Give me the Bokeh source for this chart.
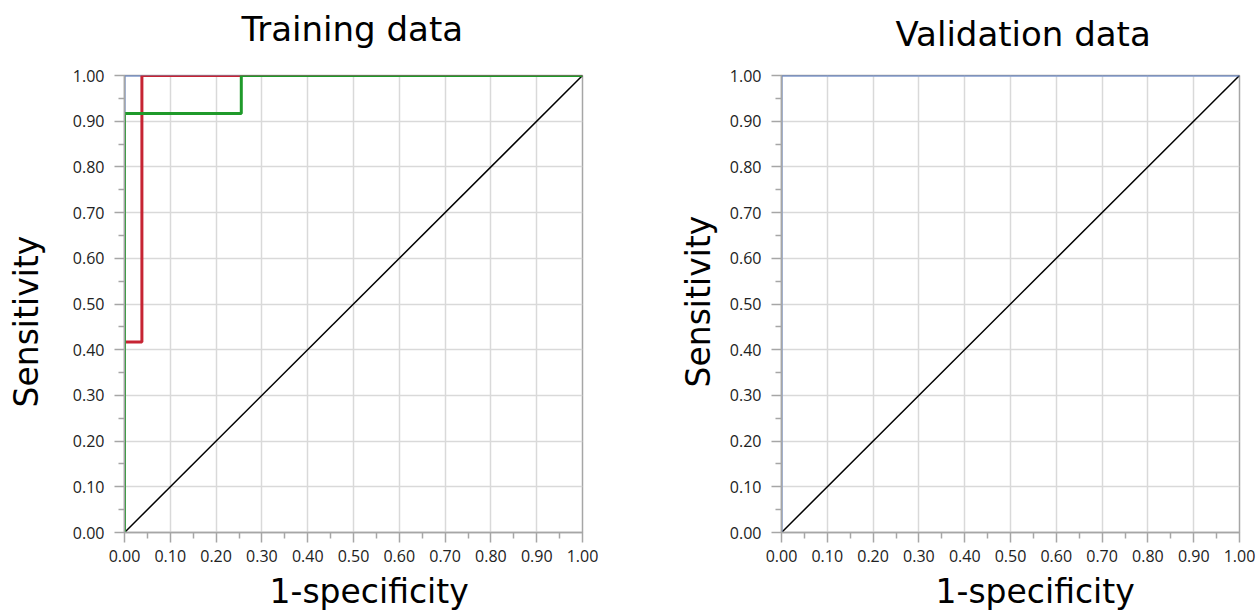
from bokeh.plotting import figure
from bokeh.models import Range1d, FixedTicker, PrintfTickFormatter, Title, LinearAxis
from bokeh.layouts import row
from bokeh.embed import file_html
from bokeh.resources import INLINE

# ---- data ----
tick_values = [0.0, 0.1, 0.2, 0.3, 0.4, 0.5, 0.6, 0.7, 0.8, 0.9, 1.0]
minor_values = [0.05, 0.15, 0.25, 0.35, 0.45, 0.55, 0.65, 0.75, 0.85, 0.95]

diag_x = [0.0, 1.0]
diag_y = [0.0, 1.0]

train_blue_x = [0.0, 0.0, 1.0]
train_blue_y = [0.0, 1.0, 1.0]
train_red_x = [0.0, 0.0, 0.038, 0.038, 1.0]
train_red_y = [0.0, 0.417, 0.417, 1.0, 1.0]
train_green_x = [0.0, 0.0, 0.255, 0.255, 1.0]
train_green_y = [0.0, 0.917, 0.917, 1.0, 1.0]

valid_blue_x = [0.0, 0.0, 1.0]
valid_blue_y = [0.0, 1.0, 1.0]

BLUE = "#5b7fc7"
RED = "#c62433"
GREEN = "#1f9a2a"
AXIS_GREY = "#a6a6a6"
GRID_GREY = "#d9d9d9"
BIG_FONT = "DejaVu Sans"
TICK_FONT = "Open Sans"


def spacer_axis(size):
    # an invisible axis used only to reserve room between the frame and a title
    return LinearAxis(ticker=FixedTicker(ticks=[0.0], minor_ticks=[]), axis_line_color=None,
                      major_tick_out=size, major_tick_in=0, minor_tick_out=0,
                      minor_tick_in=0, major_tick_line_color=None,
                      major_label_text_color=None, major_label_standoff=0)


def make_fig(title, title_off, title_gap, xlab_off, xlab_gap, ylab_off, ylab_gap, bl, br, bt, bb):
    p = figure(width=628, height=615, output_backend="svg", toolbar_location=None,
               x_range=Range1d(0, 1), y_range=Range1d(0, 1),
               min_border_left=bl, min_border_right=br, min_border_top=bt, min_border_bottom=bb)
    for ax in (p.xaxis[0], p.yaxis[0]):
        ax.ticker = FixedTicker(ticks=tick_values, minor_ticks=minor_values)
        ax.formatter = PrintfTickFormatter(format="%.2f")
        ax.axis_line_color = AXIS_GREY
        ax.axis_line_width = 1.5
        ax.major_tick_line_color = AXIS_GREY
        ax.minor_tick_line_color = AXIS_GREY
        ax.major_tick_line_width = 1.5
        ax.minor_tick_line_width = 1.5
        ax.major_tick_in = 0
        ax.minor_tick_in = 0
        ax.major_tick_out = 10
        ax.minor_tick_out = 6
        ax.major_label_text_font = TICK_FONT
        ax.major_label_text_font_size = "16px"
        ax.major_label_text_color = "#222222"
    p.yaxis[0].major_label_standoff = 10
    p.xaxis[0].major_label_standoff = 7
    for g in (p.xgrid[0], p.ygrid[0]):
        g.ticker = FixedTicker(ticks=tick_values)
        g.grid_line_color = GRID_GREY
        g.grid_line_width = 1.5
    p.outline_line_color = AXIS_GREY
    p.outline_line_width = 1.5

    p.add_layout(spacer_axis(title_gap), "above")
    p.add_layout(Title(text=title, align="left", offset=title_off, text_font=BIG_FONT,
                       text_font_size="34px", text_font_style="normal", text_color="black",
                       vertical_align="bottom", standoff=2), "above")
    p.add_layout(spacer_axis(xlab_gap), "below")
    p.add_layout(Title(text="1-specificity", align="left", offset=xlab_off, text_font=BIG_FONT,
                       text_font_size="33px", text_font_style="normal", text_color="black",
                       vertical_align="top", standoff=2), "below")
    p.add_layout(spacer_axis(ylab_gap), "left")
    p.add_layout(Title(text="Sensitivity", align="left", offset=ylab_off, text_font=BIG_FONT,
                       text_font_size="33px", text_font_style="normal", text_color="black",
                       vertical_align="bottom", standoff=0), "left")
    p.line(diag_x, diag_y, line_color="black", line_width=1.5)
    return p


p1 = make_fig("Training data", 117, 26, 145, 6, 125, 24, 124, 46, 75, 83)
p1.line(train_blue_x, train_blue_y, line_color=BLUE, line_width=2)
p1.line(train_red_x, train_red_y, line_color=RED, line_width=3)
p1.line(train_green_x, train_green_y, line_color=GREEN, line_width=3)

p2 = make_fig("Validation data", 114, 21, 154, 6, 145, 9, 153, 17, 75, 82)
p2.line(valid_blue_x, valid_blue_y, line_color=BLUE, line_width=2)

layout = row(p1, p2)
open("out.html", "w").write(file_html(layout, INLINE))
